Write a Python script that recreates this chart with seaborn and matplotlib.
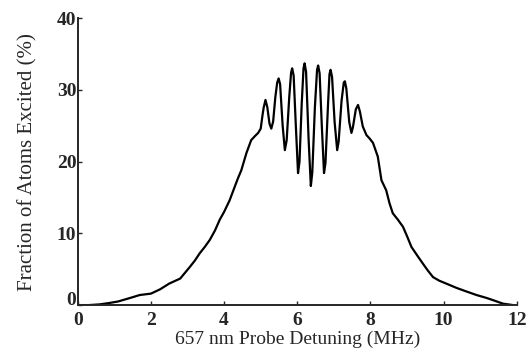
import seaborn as sns
import pandas as pd
import matplotlib.pyplot as plt

# values
detuning = [0.0, 0.3, 0.6, 0.87, 1.1, 1.3, 1.5, 1.69, 2.0, 2.25, 2.5, 2.8,
            3.06, 3.2, 3.33, 3.47, 3.61, 3.75, 3.88, 4.0, 4.15, 4.29, 4.38,
            4.47, 4.61, 4.74, 4.85, 4.93, 5.0, 5.05, 5.08, 5.13, 5.18,
            5.24, 5.29, 5.34, 5.40, 5.45, 5.49, 5.53, 5.60, 5.66, 5.71, 5.78,
            5.83, 5.86, 5.90, 5.96, 6.02, 6.06, 6.12, 6.17, 6.20, 6.24, 6.31,
            6.37, 6.41, 6.48, 6.54, 6.57, 6.61, 6.67, 6.73, 6.77, 6.84, 6.88,
            6.91, 6.95, 7.02, 7.09, 7.13, 7.21, 7.27, 7.30, 7.34, 7.42, 7.48,
            7.52, 7.60, 7.66, 7.71, 7.79, 7.89, 7.98, 8.07, 8.20, 8.30, 8.43,
            8.52, 8.61, 8.75, 8.89, 9.0, 9.12, 9.28, 9.43, 9.57, 9.71, 9.88,
            10.07, 10.35, 10.62, 10.9, 11.17, 11.4, 11.62, 11.9]
excited = [0.0, 0.0, 0.1, 0.3, 0.5, 0.8, 1.1, 1.4, 1.6, 2.2, 3.0, 3.7,
           5.3, 6.2, 7.2, 8.1, 9.1, 10.4, 11.9, 13.0, 14.6, 16.5, 17.7,
           18.8, 21.2, 23.0, 23.6, 24.0, 24.6, 26.5, 27.5, 28.6, 27.6,
           25.3, 24.6, 25.6, 29.0, 31.0, 31.6, 30.8, 25.0, 21.6, 23.0, 29.0,
           32.4, 33.0, 32.0, 25.0, 18.4, 20.0, 28.0, 33.0, 33.7, 32.5, 23.0,
           16.6, 18.5, 27.5, 32.8, 33.4, 32.3, 25.0, 18.4, 19.8, 28.0, 32.2,
           32.8, 31.8, 25.5, 21.6, 22.8, 28.5, 31.0, 31.2, 30.2, 25.5, 24.0,
           24.8, 27.3, 27.9, 27.0, 24.9, 23.7, 23.2, 22.6, 20.7, 17.4, 16.0,
           14.2, 12.8, 11.9, 10.9, 9.6, 8.1, 6.9, 5.8, 4.8, 3.9, 3.4,
           3.0, 2.4, 1.9, 1.4, 1.0, 0.6, 0.2, 0.0]

df = pd.DataFrame({'detuning': detuning, 'excited': excited})

sns.set_style('ticks')
plt.rcParams['font.family'] = ['Liberation Serif', 'DejaVu Serif']

fig = plt.figure(figsize=(5.29, 3.56), dpi=100)
ax = fig.add_axes([0.147, 0.143, 0.83, 0.806])
sns.lineplot(x='detuning', y='excited', data=df, color='black', linewidth=1.6, ax=ax)

ax.set_xlim(0, 12)
ax.set_ylim(0, 40)
ax.set_xticks(range(0, 13, 2))
ax.set_yticks(range(0, 41, 10))
ax.tick_params(direction='in', length=3, width=1, labelsize=14)
ax.tick_params(axis='x', pad=5)
ax.tick_params(axis='y', pad=1)
for lbl in ax.get_xticklabels() + ax.get_yticklabels():
    lbl.set_fontweight('bold')
# lift the y "0" a little so it clears the x "0", as in the original
ax.get_yticklabels()[0].set_verticalalignment('baseline')
ax.set_xlabel('657 nm Probe Detuning (MHz)', fontsize=14, labelpad=1)
ax.set_ylabel('Fraction of Atoms Excited (%)', fontsize=15, labelpad=14)
sns.despine(ax=ax)
for s in ['left', 'bottom']:
    ax.spines[s].set_linewidth(1.4)

fig.savefig('out.png', dpi=100)
